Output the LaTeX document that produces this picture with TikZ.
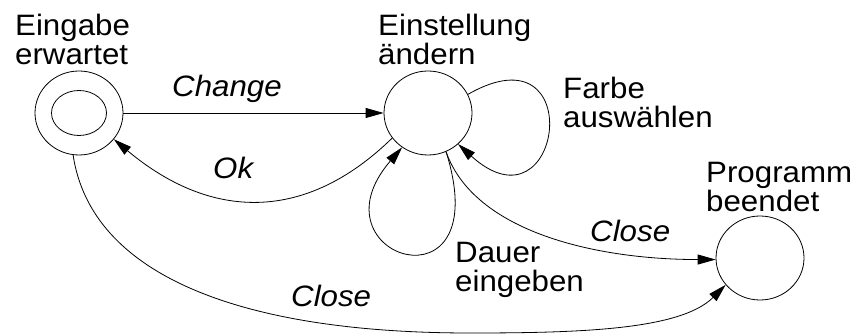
\documentclass[tikz,border=0pt]{standalone}
\usepackage{fontspec}
\setmainfont{Liberation Sans}[FakeStretch=1.06]
\usetikzlibrary{arrows.meta,shapes.geometric}
\tikzset{
  state/.style={draw, ellipse, line width=0.8pt, minimum width=88pt, minimum height=84pt, inner sep=0pt},
  inner state/.style={draw, ellipse, line width=0.8pt, minimum width=55pt, minimum height=45pt, inner sep=0pt},
  lbl/.style={anchor=base west, align=left, inner sep=0pt, font=\fontsize{29.5}{29.5}\selectfont},
  trans/.style={anchor=base west, inner sep=0pt, font=\fontsize{29.5}{29.5}\selectfont\itshape},
  conn/.style={line width=0.8pt, -{Triangle[length=18pt,width=10pt]}}
}
\begin{document}
\begin{tikzpicture}[x=1pt,y=1pt]
\useasboundingbox (0,0) rectangle (858,334);
\node[state] (A) at (79,221) {};
\node[inner state] (Ai) at (79,221) {};
\node[state] (B) at (428,221) {};
\node[state] (C) at (760,76) {};
\coordinate (cb) at (470,1);

\node[lbl] (tA) at (15,269) {Eingabe\\erwartet};
\node[lbl] (tB) at (378,269) {Einstellung\\ändern};
\node[lbl] (tF) at (563,206) {Farbe\\auswählen};
\node[lbl] (tC) at (706,122) {Programm\\beendet};
\node[lbl] (tD) at (455,42) {Dauer\\eingeben};

\node[trans] (lChange) at (172,237) {Change};
\node[trans] (lOk) at (213,155) {Ok};
\node[trans] (lClose1) at (590,92) {Close};
\node[trans] (lClose2) at (291,27) {Close};

\draw[conn] (A) -- (B);
\draw[conn] (B.215) .. controls +(-86,-84) and +(98,-82) .. (A.-37);
\draw[conn] (B.-65) .. controls +(28,-80) and +(-120,0) .. (C.182);
\draw[conn] (B.25) .. controls +(122,70) and +(104,-94) .. (B.-46);
\draw[conn] (B.-65) .. controls +(52,-165) and +(-95,-110) .. (B.233);
\draw[conn] (A.262) .. controls +(18,-120) and +(-230,0) .. (cb) .. controls +(110,0) and +(-45,-45) .. (C.218);
\end{tikzpicture}
\end{document}
